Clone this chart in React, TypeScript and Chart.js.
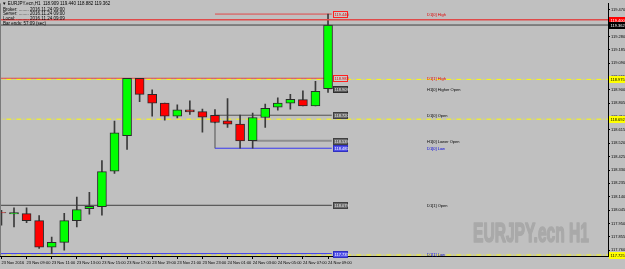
import React, { useEffect, useRef } from "react";
import { Chart, registerables } from "chart.js";
Chart.register(...registerables);

// ---------- DATA ----------
const symbolName = "EURJPY.ecn";
const periodName = "H1";
// hourly bars, first bar 23 Nov 07:00, last bar 24 Nov 09:00
const timeLabels = [
  "23 Nov 2016", "23 Nov 09:00", "23 Nov 11:00", "23 Nov 13:00", "23 Nov 15:00",
  "23 Nov 17:00", "23 Nov 19:00", "23 Nov 21:00", "23 Nov 23:00", "24 Nov 01:00",
  "24 Nov 03:00", "24 Nov 05:00", "24 Nov 07:00", "24 Nov 09:00",
];
const opens = [118.027, 118.017, 118.020, 117.970, 117.781, 117.815, 117.970, 118.055, 118.069, 118.321, 118.575, 118.983, 118.869, 118.806, 118.714, 118.758, 118.746, 118.720, 118.680, 118.657, 118.539, 118.704, 118.777, 118.806, 118.831, 118.787, 118.909];
const highs = [118.043, 118.060, 118.060, 118.006, 117.852, 118.022, 118.137, 118.171, 118.397, 118.678, 118.983, 118.983, 118.900, 118.806, 118.794, 118.822, 118.763, 118.760, 118.838, 118.721, 118.735, 118.799, 118.843, 118.869, 118.893, 118.962, 119.440];
const lows = [117.937, 117.925, 117.956, 117.772, 117.735, 117.760, 117.925, 118.015, 118.008, 118.305, 118.477, 118.817, 118.714, 118.685, 118.700, 118.725, 118.600, 118.666, 118.633, 118.485, 118.485, 118.633, 118.756, 118.763, 118.787, 118.787, 118.882];
const closes = [118.025, 118.027, 117.970, 117.781, 117.815, 117.970, 118.048, 118.072, 118.319, 118.595, 118.983, 118.869, 118.806, 118.714, 118.758, 118.744, 118.707, 118.668, 118.657, 118.537, 118.704, 118.770, 118.806, 118.834, 118.787, 118.891, 119.362];
const priceTicks = [119.470, 119.375, 119.280, 119.185, 119.090, 118.995, 118.900, 118.805, 118.710, 118.615, 118.520, 118.425, 118.330, 118.235, 118.140, 118.045, 117.950, 117.855, 117.760];
const levelNames = ["D1[0] High", "D1[1] High", "H1[0] Higher Open", "D1[0] Open", "H1[0] Lower Open", "D1[0] Low", "D1[1] Open", "D1[1] Low"];
const levelValues = [119.440, 118.983, 118.909, 118.720, 118.539, 118.485, 118.079, 117.735];
const levelStartBar = [17, -1, 26, 17, 20, 17, -1, -1];
const yellowLevels = [118.975, 118.692, 117.725];
const askPrice = 119.400;
const bidPrice = 119.362;
const infoLines = [
  "Broker: ........ 2016.11.24 09:00",
  "Server: ........ 2016.11.24 09:00",
  "Local: .......... 2016.11.24 09:09",
  "Bar ends: 57:09 (sec)",
];

// ---------- STYLE ----------
const BG = "#c0c0c0";
const FONT = '"Liberation Sans", Arial, sans-serif';
const levelLine = [
  { color: "#e04848", width: 1 },
  { color: "#e04848", width: 1 },
  { color: "#505050", width: 1 },
  { color: "#505050", width: 1 },
  { color: "#8e8e8e", width: 2 },
  { color: "#3838f0", width: 1 },
  { color: "#404040", width: 1 },
  { color: "#3838f0", width: 1 },
];
const levelBox = [
  { fill: "#c8c8c8", stroke: "#ff2020", text: "#e00000", name: "#e00000" },
  { fill: "#c8c8c8", stroke: "#ff2020", text: "#e00000", name: "#e00000" },
  { fill: "#5a5a5a", stroke: "#303030", text: "#e8e8e8", name: "#000000" },
  { fill: "#6a6a6a", stroke: "#404040", text: "#e8e8e8", name: "#000000" },
  { fill: "#6a6a6a", stroke: "#404040", text: "#e8e8e8", name: "#000000" },
  { fill: "#5050e8", stroke: "#3030c0", text: "#ffffff", name: "#0000e0" },
  { fill: "#6a6a6a", stroke: "#404040", text: "#e8e8e8", name: "#000000" },
  { fill: "#5050e8", stroke: "#3030c0", text: "#ffffff", name: "#0000e0" },
];

const lastBar = opens.length - 1;

const mt4Plugin = {
  id: "mt4",
  beforeDraw(chart: any) {
    const { ctx, width, height } = chart;
    ctx.save();
    ctx.fillStyle = BG;
    ctx.fillRect(0, 0, width, height);
    ctx.restore();
  },
  beforeDatasetsDraw(chart: any) {
    const { ctx, chartArea } = chart;
    const txt = `${symbolName} ${periodName}`;
    ctx.save();
    ctx.font = `bold 27px "Liberation Sans Narrow", ${FONT}`;
    const w = ctx.measureText(txt).width;
    const target = 116;
    ctx.translate(chartArea.right - 19 - target, chartArea.bottom - 14);
    ctx.scale(target / w, 1);
    ctx.fillStyle = "#a9a9a9";
    ctx.strokeStyle = "#a9a9a9";
    ctx.lineWidth = 1.6;
    ctx.lineJoin = "round";
    ctx.textBaseline = "alphabetic";
    ctx.strokeText(txt, 0, 0);
    ctx.fillText(txt, 0, 0);
    ctx.restore();
  },
  afterDatasetsDraw(chart: any) {
    const { ctx } = chart;
    const xs = chart.scales.x;
    const ys = chart.scales.y;
    ctx.save();
    ctx.font = `4px ${FONT}`;
    ctx.textBaseline = "middle";
    const bx = Math.round(xs.getPixelForValue(lastBar)) + 5;
    levelValues.forEach((v, i) => {
      const by = Math.round(ys.getPixelForValue(v));
      const st = levelBox[i];
      ctx.fillStyle = st.fill;
      ctx.fillRect(bx, by - 3, 15, 7);
      ctx.strokeStyle = st.stroke;
      ctx.lineWidth = 1;
      ctx.strokeRect(bx + 0.5, by - 2.5, 14, 6);
      ctx.fillStyle = st.text;
      ctx.textAlign = "left";
      ctx.fillText(v.toFixed(3), bx + 1.5, by + 0.5);
      ctx.fillStyle = st.name;
      ctx.fillText(levelNames[i], bx + 94, by + 0.5);
    });
    ctx.restore();
  },
  afterDraw(chart: any) {
    const { ctx, chartArea } = chart;
    const ys = chart.scales.y;
    ctx.save();
    // left frame
    ctx.strokeStyle = "#7a7a7a";
    ctx.lineWidth = 1;
    ctx.beginPath();
    ctx.moveTo(0.5, chartArea.top);
    ctx.lineTo(0.5, chartArea.bottom);
    ctx.stroke();
    // axis price boxes
    ctx.font = `4px ${FONT}`;
    ctx.textBaseline = "middle";
    ctx.textAlign = "left";
    const boxes = [
      { v: askPrice, fill: "#ff0000", text: "#ffffff" },
      { v: bidPrice, fill: "#000000", text: "#ffffff" },
      ...yellowLevels.map((v) => ({ v, fill: "#ffff00", text: "#000000" })),
    ];
    boxes.forEach((b) => {
      const by = Math.round(ys.getPixelForValue(b.v));
      ctx.fillStyle = b.fill;
      ctx.fillRect(chartArea.right + 1, by - 3, 16, 7);
      ctx.fillStyle = b.text;
      ctx.fillText(b.v.toFixed(3), chartArea.right + 2.5, by + 0.5);
    });
    // header info
    ctx.fillStyle = "#000000";
    ctx.font = `4.5px ${FONT}`;
    const head = `\u25BC ${symbolName},${periodName}  ${opens[lastBar].toFixed(3)} ${highs[lastBar].toFixed(3)} ${lows[lastBar].toFixed(3)} ${closes[lastBar].toFixed(3)}`;
    ctx.fillText(head, 2, 4);
    const ly = [9.5, 14, 18.5, 23.5];
    infoLines.forEach((t, i) => ctx.fillText(t, 3, ly[i]));
    ctx.restore();
  },
};

export default function App() {
  const ref = useRef<HTMLCanvasElement>(null);
  useEffect(() => {
    if (!ref.current) return;
    const idx = opens.map((_, i) => i);
    const lineDs = (pts: any[], color: string, width: number, dash: number[] = [], order = 10) => ({
      type: "line",
      data: pts,
      borderColor: color,
      borderWidth: width,
      borderDash: dash,
      pointRadius: 0,
      fill: false,
      order,
    });
    const datasets: any[] = [];
    levelValues.forEach((v, i) => {
      datasets.push(
        lineDs([{ x: levelStartBar[i], y: v }, { x: lastBar + 0.3, y: v }], levelLine[i].color, levelLine[i].width)
      );
    });
    // day box side
    datasets.push(lineDs([{ x: 17, y: levelValues[3] }, { x: 17, y: levelValues[5] }], "#808080", 1));
    yellowLevels.forEach((v) => {
      datasets.push(lineDs([{ x: -2, y: v }, { x: 60, y: v }], "#ffff00", 1, [5, 2, 1, 2], 9));
    });
    datasets.push(lineDs([{ x: -2, y: askPrice }, { x: 60, y: askPrice }], "#e04a4a", 1.5, [], 3));
    datasets.push(lineDs([{ x: -2, y: bidPrice }, { x: 60, y: bidPrice }], "#404040", 1, [], 3));
    datasets.push({
      type: "bar",
      data: idx.map((i) => ({ x: i, y: [lows[i], highs[i]] })),
      backgroundColor: "#3a3a3a",
      barThickness: 1,
      grouped: false,
      borderWidth: 0,
      order: 5,
    });
    datasets.push({
      type: "bar",
      data: idx.map((i) => ({ x: i, y: [opens[i], closes[i]] })),
      backgroundColor: idx.map((i) => (closes[i] >= opens[i] ? "#00ff00" : "#ff0000")),
      borderColor: "#2a2a2a",
      borderWidth: 1,
      borderSkipped: false,
      barThickness: 9,
      grouped: false,
      order: 4,
    });

    const chart = new Chart(ref.current, {
      type: "bar",
      data: { datasets },
      options: {
        animation: false,
        responsive: false,
        devicePixelRatio: 1,
        layout: { padding: { top: 2, left: 0, right: 0, bottom: 0 } },
        plugins: { legend: { display: false }, tooltip: { enabled: false } },
        events: [],
        scales: {
          x: {
            type: "linear",
            min: -0.115,
            max: 48.29,
            offset: false,
            afterBuildTicks: (s: any) => {
              s.ticks = timeLabels.map((_, i) => ({ value: i * 2 }));
            },
            afterFit: (s: any) => {
              s.height = 13;
            },
            ticks: {
              autoSkip: false,
              maxRotation: 0,
              minRotation: 0,
              align: "start",
              padding: 1,
              color: "#000000",
              font: { size: 4, family: FONT },
              callback: (v: any) => timeLabels[Math.round(v / 2)] ?? "",
            },
            grid: { display: true, offset: false, drawOnChartArea: false, drawTicks: true, tickLength: 3, color: "#000000" },
            border: { display: true, color: "#000000", width: 1 },
          },
          y: {
            type: "linear",
            position: "right",
            min: 117.718,
            max: 119.516,
            beginAtZero: false,
            afterBuildTicks: (s: any) => {
              s.ticks = priceTicks.map((v) => ({ value: v }));
            },
            afterFit: (s: any) => {
              s.width = 17;
            },
            ticks: {
              padding: 1,
              color: "#000000",
              font: { size: 4, family: FONT },
              callback: (v: any) => Number(v).toFixed(3),
            },
            grid: { display: true, drawOnChartArea: false, drawTicks: true, tickLength: 2, color: "#000000" },
            border: { display: true, color: "#000000", width: 1 },
          },
        },
      },
      plugins: [mt4Plugin],
    } as any);
    return () => chart.destroy();
  }, []);
  return (
    <div style={{ position: "fixed", left: 0, top: 0, width: 625, height: 269, background: BG }}>
      <canvas ref={ref} width={625} height={269} style={{ display: "block", width: 625, height: 269 }} />
    </div>
  );
}
